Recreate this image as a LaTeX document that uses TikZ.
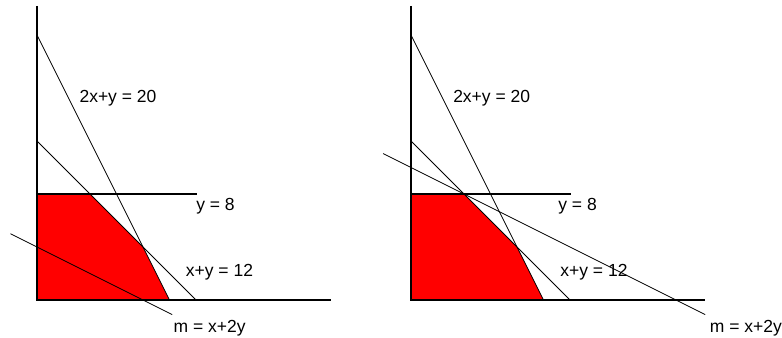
\documentclass[tikz,border=0pt]{standalone}
\usepackage{fontspec}
\setmainfont{Liberation Sans}
\usetikzlibrary{positioning}

\tikzset{
  axis/.style={line width=1.2pt},
  bound/.style={line width=0.8pt},
  lbl/.style={anchor=base,inner sep=0pt,font=\fontsize{17.5}{20}\selectfont}
}

\begin{document}
\begin{tikzpicture}[x=13.25pt,y=13.25pt]
  \useasboundingbox (-2.792,-2.792) rectangle (56.226,22.642);

  % left: m = 8
  \fill[red] (0,0) -- (0,8) -- (4,8) -- (8,4) -- (10,0) -- cycle;
  \draw[axis] (0,22.19) -- (0,0) -- (22.19,0);
  \draw[bound] (0,20) -- (10,0);
  \draw[bound] (0,12) -- (12,0);
  \draw[axis] (0,8) -- (12.1,8);
  \draw[bound] (-2,5) -- (10.2,-1.1);

  \node[lbl] (c1) at (6.11,14.87) {2x+y = 20};
  \node[lbl] (y1) at (13.47,6.72) {y = 8};
  \node[lbl] (s1) at (13.77,1.81) {x+y = 12};
  \node[lbl] (m1) at (13.03,-2.42) {m = x+2y};

  % right: m = 20
  \begin{scope}[xshift=374pt]
    \fill[red] (0,0) -- (0,8) -- (4,8) -- (8,4) -- (10,0) -- cycle;
    \draw[axis] (0,22.19) -- (0,0) -- (22.19,0);
    \draw[bound] (0,20) -- (10,0);
    \draw[bound] (0,12) -- (12,0);
    \draw[axis] (0,8) -- (12.1,8);
    \draw[bound] (-2.1,11.05) -- (22.2,-1.1);

    \node[lbl] (c2) at (6.09,14.87) {2x+y = 20};
    \node[lbl] (y2) at (12.57,6.72) {y = 8};
    \node[lbl] (s2) at (13.81,1.81) {x+y = 12};
    \node[lbl] (m2) at (25.28,-2.42) {m = x+2y};
  \end{scope}
\end{tikzpicture}
\end{document}
